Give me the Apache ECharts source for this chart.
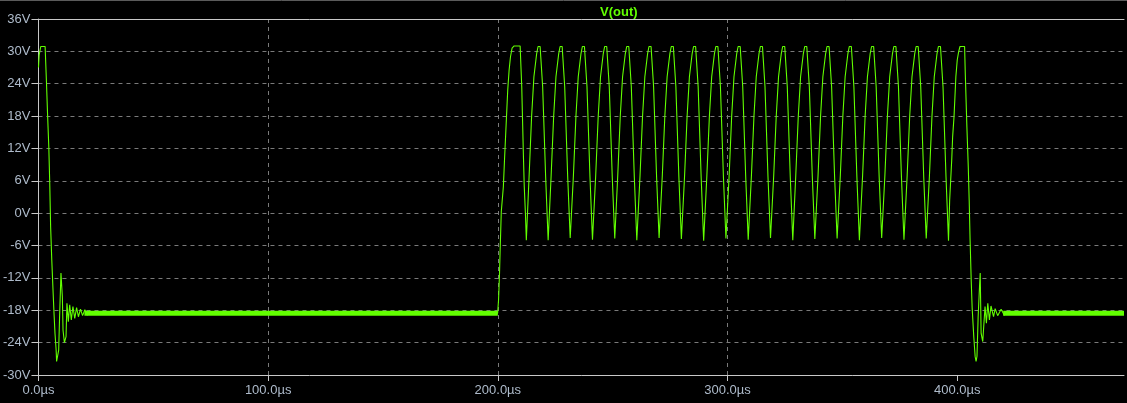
<!DOCTYPE html>
<html>
<head>
<meta charset="utf-8">
<script src="https://cdn.jsdelivr.net/npm/echarts@6/dist/echarts.min.js"></script>
<style>
html,body{margin:0;padding:0;background:#000;overflow:hidden;}
#chart{width:1127px;height:403px;}
</style>
</head>
<body>
<div id="chart"></div>
<script>
// ---- data (time in µs, voltage in V) ----
const seriesName = 'V(out)';
const yTicks = [36, 30, 24, 18, 12, 6, 0, -6, -12, -18, -24, -30];
const xTicks = [0, 100, 200, 300, 400];

const startTransient = [
  [0,27.0],[0.3,29.3],[1.0,30.9],[2.9,30.9],[3.5,24.1],[4.0,17.9],[4.5,12.3],[4.9,5.8],
  [5.3,-2.5],[5.8,-8.7],[6.4,-14.9],[6.8,-18.8],[7.2,-22.3],[7.7,-25.4],[7.9,-27.5],[8.5,-27.5],
  [8.8,-25.4],[9.2,-19.2],[9.8,-11.1],[10.1,-11.1],[10.4,-15.5],[10.7,-21.7],[11.3,-24.0],[11.7,-24.0],
  [12.0,-22.9],[12.4,-16.7],[13.0,-20.1],[13.6,-17.0],[14.3,-19.8],[15.0,-17.3],[15.8,-19.5],[16.6,-17.5],
  [17.4,-19.2],[18.3,-17.8],[19.2,-19.0],[20.2,-17.9],[21.2,-18.9],[22.3,-18.1],[23.5,-18.7],[25.0,-18.3],
  [26.5,-18.7],[28.0,-18.4]
];

const offLevel1 = [[28.0,-18.55],[199.9,-18.55]];

const burst = [
  [200.3,-16.1],[200.7,-11.5],[201.0,-6.8],[201.5,0.3],[202.4,4.9],[202.9,9.9],[203.3,13.6],[203.7,17.3],
  [204.3,22.8],[204.9,26.5],[205.5,29.0],[206.2,30.6],[207.1,31.0],[209.7,31.0],[210.4,23.5],[211.1,11.1],
  [211.5,4.9],[212.0,0.0],[212.4,-5.0],
  [213.6,6.8],[214.7,18.0],[215.7,25.3],[216.9,29.6],[217.5,30.9],[218.4,30.9],[219.5,23.5],[220.8,6.8],[221.9,-5.0],
  [223.2,7],[224.3,18],[225.3,25.3],[226.5,29.6],[227.1,30.9],[228.0,30.9],[229.1,23.5],[230.4,6.8],[231.5,-4.6],
  [232.9,7],[234.0,18],[235.0,25.3],[236.2,29.6],[236.8,30.9],[237.7,30.9],[238.8,23.5],[240.1,6.8],[241.2,-4.9],
  [242.6,7],[243.7,18],[244.7,25.3],[245.9,29.6],[246.5,30.9],[247.4,30.9],[248.5,23.5],[249.8,6.8],[250.9,-4.7],
  [252.2,7],[253.3,18],[254.3,25.3],[255.5,29.6],[256.1,30.9],[257.0,30.9],[258.1,23.5],[259.4,6.8],[260.5,-5.0],
  [261.9,7],[263.0,18],[264.0,25.3],[265.2,29.6],[265.8,30.9],[266.7,30.9],[267.8,23.5],[269.1,6.8],[270.2,-4.6],
  [271.6,7],[272.7,18],[273.7,25.3],[274.9,29.6],[275.5,30.9],[276.4,30.9],[277.5,23.5],[278.8,6.8],[279.9,-4.8],
  [281.3,7],[282.4,18],[283.4,25.3],[284.6,29.6],[285.2,30.9],[286.1,30.9],[287.2,23.5],[288.5,6.8],[289.6,-5.1],
  [291.0,7],[292.1,18],[293.1,25.3],[294.3,29.6],[294.9,30.9],[295.8,30.9],[296.9,23.5],[298.2,6.8],[299.3,-4.7],
  [300.7,7],[301.8,18],[302.8,25.3],[304.0,29.6],[304.6,30.9],[305.5,30.9],[306.6,23.5],[307.9,6.8],[309.0,-4.9],
  [310.4,7],[311.5,18],[312.5,25.3],[313.7,29.6],[314.3,30.9],[315.2,30.9],[316.3,23.5],[317.6,6.8],[318.7,-4.6],
  [320.1,7],[321.2,18],[322.2,25.3],[323.4,29.6],[324.0,30.9],[324.9,30.9],[326.0,23.5],[327.3,6.8],[328.4,-5.0],
  [329.7,7],[330.8,18],[331.8,25.3],[333.0,29.6],[333.6,30.9],[334.5,30.9],[335.6,23.5],[336.9,6.8],[338.0,-4.8],
  [339.4,7],[340.5,18],[341.5,25.3],[342.7,29.6],[343.3,30.9],[344.2,30.9],[345.3,23.5],[346.6,6.8],[347.7,-4.7],
  [349.1,7],[350.2,18],[351.2,25.3],[352.4,29.6],[353.0,30.9],[353.9,30.9],[355.0,23.5],[356.3,6.8],[357.4,-5.0],
  [358.8,7],[359.9,18],[360.9,25.3],[362.1,29.6],[362.7,30.9],[363.6,30.9],[364.7,23.5],[366.0,6.8],[367.1,-4.6],
  [368.5,7],[369.6,18],[370.6,25.3],[371.8,29.6],[372.4,30.9],[373.3,30.9],[374.4,23.5],[375.7,6.8],[376.8,-4.9],
  [378.2,7],[379.3,18],[380.3,25.3],[381.5,29.6],[382.1,30.9],[383.0,30.9],[384.1,23.5],[385.4,6.8],[386.5,-4.7],
  [387.9,7],[389.0,18],[390.0,25.3],[391.2,29.6],[391.8,30.9],[392.7,30.9],[393.8,23.5],[395.1,6.8],[396.2,-5.1]
];

const endTransient = [
  [396.7,2.4],[397.6,9.9],[398.0,14.2],[398.6,17.9],[399.0,21.6],[399.4,25.3],[400.0,28.4],[400.6,29.9],
  [401.2,30.9],[403.2,30.9],[403.5,25.9],[404.2,16.0],[404.8,8.6],[405.2,2.4],[405.6,-5.0],[406.1,-12.7],
  [406.5,-17.6],[407.2,-22.9],[407.8,-26.6],[408.2,-27.5],[408.6,-26.5],[409.1,-19.2],[409.7,-13.6],[410.0,-11.1],
  [410.4,-22.3],[411.1,-23.8],[411.5,-23.8],[412.1,-17.3],[412.7,-20.4],[413.3,-16.7],[414.0,-19.8],[414.7,-17.2],
  [415.8,-19.2],[416.5,-17.7],[417.6,-19.0],[419.1,-17.8],[420.5,-18.9],[421.5,-18.2],[423.0,-18.7],[424.5,-18.3]
];

const offLevel2 = [[424.5,-18.55],[472.6,-18.55]];

// ripple envelope (thick band of the settled ripple)
const rippleBandA = [[20,-18.55],[200,-18.55]];
const rippleBandB = [[420,-18.55],[472.6,-18.55]];

const vout = [].concat(startTransient, offLevel1, burst, endTransient, offLevel2);

// ---- chart ----
const GREEN = '#62ff00';
const LABEL = '#aebbcb';
const FONT = 'Liberation Sans, Arial, sans-serif';
const X_MAX = 472.6;
const chart = echarts.init(document.getElementById('chart'), null, {renderer: 'canvas'});
chart.setOption({
  animation: false,
  backgroundColor: '#000',
  title: {
    text: seriesName,
    left: 595, top: 1,
    textStyle: {color: GREEN, fontSize: 13, fontWeight: 'bold', fontFamily: FONT}
  },
  graphic: [{
    type: 'line', shape: {x1: 0, y1: 0.5, x2: 1127, y2: 0.5},
    style: {stroke: '#5a5a5a', lineWidth: 1}
  }],
  grid: {left: 36, right: 0, top: 19, bottom: 28, containLabel: false},
  xAxis: [{
    type: 'value', min: 0, max: X_MAX, interval: 100,
    axisLine: {show: true, onZero: false, lineStyle: {color: '#c8c8c8', width: 1}},
    axisTick: {show: true, length: 6, customValues: xTicks, lineStyle: {color: '#c8c8c8'}},
    axisLabel: {color: LABEL, fontSize: 13, margin: 9, fontFamily: FONT,
                formatter: v => (xTicks.indexOf(v) >= 0 ? v.toFixed(1) + 'µs' : '')},
    splitLine: {show: true, showMaxLine: false,
                lineStyle: {color: '#7a7a7a', type: [4, 4], width: 1}}
  }, {
    type: 'value', position: 'top', min: 0, max: X_MAX,
    axisLine: {show: true, onZero: false, lineStyle: {color: '#c8c8c8', width: 1}},
    axisTick: {show: false}, axisLabel: {show: false}, splitLine: {show: false}
  }],
  yAxis: {
    type: 'value', min: -30, max: 36, interval: 6,
    axisLine: {show: true, onZero: false, lineStyle: {color: '#c8c8c8', width: 1}},
    axisTick: {show: true, length: 7, lineStyle: {color: '#c8c8c8'}},
    axisLabel: {color: LABEL, fontSize: 13, margin: 8, fontFamily: FONT,
                formatter: v => (yTicks.indexOf(v) >= 0 ? v + 'V' : '')},
    splitLine: {show: true, lineStyle: {color: '#7a7a7a', type: [4, 4], width: 1}}
  },
  series: [{
    type: 'line', data: rippleBandA, showSymbol: false, silent: true,
    lineStyle: {color: GREEN, width: 5}
  }, {
    type: 'line', data: rippleBandB, showSymbol: false, silent: true,
    lineStyle: {color: GREEN, width: 5}
  }, {
    name: seriesName, type: 'line', data: vout, showSymbol: false, sampling: null,
    lineStyle: {color: GREEN, width: 1.1}
  }]
});
</script>
</body>
</html>
